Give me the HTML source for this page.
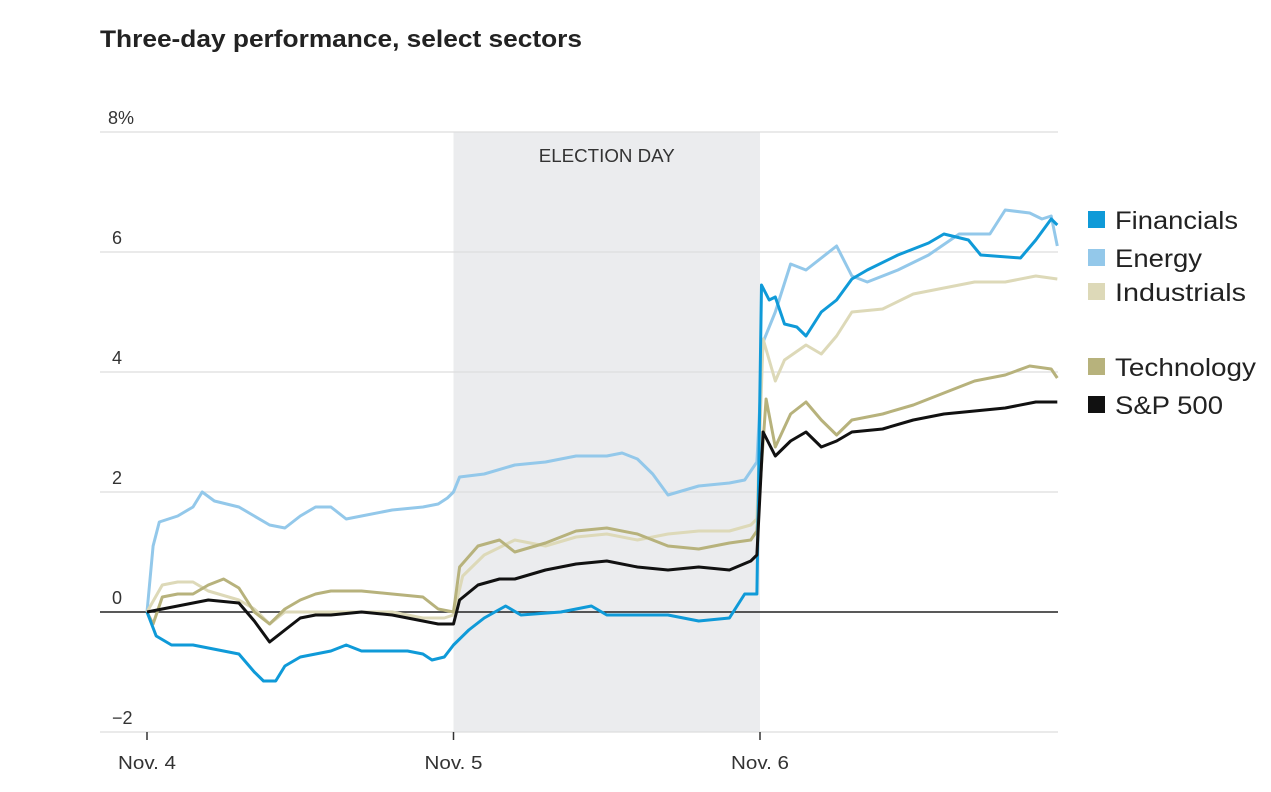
<!DOCTYPE html>
<html><head><meta charset="utf-8"><style>
body{margin:0;background:#fff;}
svg{display:block;font-family:"Liberation Sans",sans-serif;}
</style></head><body>
<svg width="1271" height="792">
<text x="100" y="47" font-size="24" font-weight="bold" fill="#222" textLength="482" lengthAdjust="spacingAndGlyphs">Three-day performance, select sectors</text>
<g id="grid"></g>
<g id="lines"></g>
<g id="legend"></g>
</svg>
<script>
const yTicks=[8,6,4,2,0,-2];
const yTickLabels=["8%","6","4","2","0","−2"];
const xTicks=[0,1,2];
const xTickLabels=["Nov. 4","Nov. 5","Nov. 6"];
const seriesNames=["Energy","Industrials","Technology","Financials","S&P 500"];
const legendOrder=["Financials","Energy","Industrials","Technology","S&P 500"];
const colors={"Financials":"#0f9ad8","Energy":"#93c8ea","Industrials":"#ddd9b8","Technology":"#b7b27c","S&P 500":"#111"};
const tEnergy=[0,0.02,0.04,0.1,0.15,0.18,0.22,0.3,0.4,0.45,0.5,0.55,0.6,0.65,0.7,0.8,0.9,0.95,0.98,1.0,1.02,1.1,1.2,1.3,1.4,1.5,1.55,1.6,1.65,1.7,1.8,1.9,1.95,1.99,2.01,2.05,2.1,2.15,2.25,2.3,2.35,2.45,2.55,2.65,2.75,2.8,2.88,2.92,2.95,2.97];
const vEnergy=[0,1.1,1.5,1.6,1.75,2.0,1.85,1.75,1.45,1.4,1.6,1.75,1.75,1.55,1.6,1.7,1.75,1.8,1.9,2.0,2.25,2.3,2.45,2.5,2.6,2.6,2.65,2.55,2.3,1.95,2.1,2.15,2.2,2.5,4.5,5.0,5.8,5.7,6.1,5.6,5.5,5.7,5.95,6.3,6.3,6.7,6.65,6.55,6.6,6.1];
const tFin=[0,0.03,0.08,0.15,0.2,0.3,0.35,0.38,0.42,0.45,0.5,0.55,0.6,0.65,0.7,0.8,0.85,0.9,0.93,0.97,1.0,1.05,1.1,1.17,1.22,1.35,1.4,1.45,1.5,1.6,1.7,1.8,1.9,1.95,1.99,2.005,2.03,2.05,2.08,2.12,2.15,2.2,2.25,2.3,2.35,2.45,2.55,2.6,2.68,2.72,2.85,2.9,2.95,2.97];
const vFin=[0,-0.4,-0.55,-0.55,-0.6,-0.7,-1.0,-1.15,-1.15,-0.9,-0.75,-0.7,-0.65,-0.55,-0.65,-0.65,-0.65,-0.7,-0.8,-0.75,-0.55,-0.3,-0.1,0.1,-0.05,0,0.05,0.1,-0.05,-0.05,-0.05,-0.15,-0.1,0.3,0.3,5.45,5.2,5.25,4.8,4.75,4.6,5.0,5.2,5.55,5.7,5.95,6.15,6.3,6.2,5.95,5.9,6.2,6.55,6.45];
const tInd=[0,0.05,0.1,0.15,0.2,0.3,0.35,0.4,0.45,0.5,0.6,0.7,0.8,0.9,0.97,1.0,1.03,1.1,1.2,1.3,1.4,1.5,1.6,1.7,1.8,1.9,1.97,1.99,2.01,2.05,2.08,2.15,2.2,2.25,2.3,2.4,2.5,2.6,2.7,2.8,2.9,2.97];
const vInd=[0,0.45,0.5,0.5,0.35,0.2,0.05,-0.2,0,0,0,0,0,-0.1,-0.1,-0.05,0.6,0.95,1.2,1.1,1.25,1.3,1.2,1.3,1.35,1.35,1.45,1.55,4.55,3.85,4.2,4.45,4.3,4.6,5.0,5.05,5.3,5.4,5.5,5.5,5.6,5.55];
const tTech=[0,0.02,0.05,0.1,0.15,0.2,0.25,0.3,0.35,0.4,0.45,0.5,0.55,0.6,0.7,0.8,0.9,0.95,1.0,1.02,1.08,1.15,1.2,1.3,1.4,1.5,1.6,1.7,1.8,1.9,1.97,1.99,2.02,2.05,2.1,2.15,2.2,2.25,2.3,2.4,2.5,2.6,2.7,2.8,2.88,2.95,2.97];
const vTech=[0,-0.2,0.25,0.3,0.3,0.45,0.55,0.4,0,-0.2,0.05,0.2,0.3,0.35,0.35,0.3,0.25,0.05,0,0.75,1.1,1.2,1.0,1.15,1.35,1.4,1.3,1.1,1.05,1.15,1.2,1.35,3.55,2.75,3.3,3.5,3.2,2.95,3.2,3.3,3.45,3.65,3.85,3.95,4.1,4.05,3.9];
const tSP=[0,0.05,0.1,0.15,0.2,0.3,0.35,0.4,0.45,0.5,0.55,0.6,0.7,0.8,0.9,0.95,1.0,1.02,1.08,1.15,1.2,1.3,1.4,1.5,1.6,1.7,1.8,1.9,1.97,1.99,2.01,2.05,2.1,2.15,2.2,2.25,2.3,2.4,2.5,2.6,2.7,2.8,2.9,2.97];
const vSP=[0,0.05,0.1,0.15,0.2,0.15,-0.15,-0.5,-0.3,-0.1,-0.05,-0.05,0,-0.05,-0.15,-0.2,-0.2,0.2,0.45,0.55,0.55,0.7,0.8,0.85,0.75,0.7,0.75,0.7,0.85,0.95,3.0,2.6,2.85,3.0,2.75,2.85,3.0,3.05,3.2,3.3,3.35,3.4,3.5,3.5];
const shadeStart=1, shadeEnd=2;

const NS="http://www.w3.org/2000/svg";
const X=t=>147+t*306.5;
const Y=v=>612-v*60;
function mk(tag,attrs,parent,txt){const e=document.createElementNS(NS,tag);for(const k in attrs)e.setAttribute(k,attrs[k]);if(txt!==undefined)e.textContent=txt;parent.appendChild(e);return e;}
const grid=document.getElementById('grid');
const sh=mk('rect',{x:X(shadeStart),y:Y(8),width:X(shadeEnd)-X(shadeStart),height:Y(-2)-Y(8),fill:'#ebecee'},grid);


const st=mk('text',{x:(X(shadeStart)+X(shadeEnd))/2,y:162,'text-anchor':'middle','font-size':18,fill:'#333',textLength:136,lengthAdjust:'spacingAndGlyphs'},grid,'ELECTION DAY');


yTicks.forEach((v,i)=>{
  const l=mk('line',{x1:100,x2:1058,y1:Y(v),y2:Y(v),stroke:v===0?'#222':'#ddd','stroke-width':v===0?1.5:1.2},grid);
  
  
  const t=mk('text',{x:v===8?108:112,y:Y(v)-8,'font-size':18,fill:'#333'},grid,yTickLabels[i]);
  
  
});
xTicks.forEach((d,i)=>{
  const l=mk('line',{x1:X(d),x2:X(d),y1:Y(-2),y2:Y(-2)+8,stroke:'#333','stroke-width':1.5},grid);
  
  
  const t=mk('text',{x:X(d),y:Y(-2)+37,'font-size':18,fill:'#333','text-anchor':'middle',textLength:58,lengthAdjust:'spacingAndGlyphs'},grid,xTickLabels[i]);
  
  
});
const data={"Energy":[tEnergy,vEnergy],"Industrials":[tInd,vInd],"Technology":[tTech,vTech],"Financials":[tFin,vFin],"S&P 500":[tSP,vSP]};
const lines=document.getElementById('lines');
seriesNames.forEach(n=>{
  const [ts,vs]=data[n];
  const p=mk('polyline',{points:ts.map((t,i)=>X(t).toFixed(1)+','+Y(vs[i]).toFixed(1)).join(' '),fill:'none',stroke:colors[n],'stroke-width':3,'stroke-linejoin':'round'},lines);
  
  
});
const legY={"Financials":220,"Energy":258,"Industrials":292,"Technology":367,"S&P 500":405};
const legW={"Financials":123,"Energy":87,"Industrials":131,"Technology":141,"S&P 500":108};
const leg=document.getElementById('legend');
legendOrder.forEach(n=>{
  const r=mk('rect',{x:1088,y:legY[n]-9,width:17,height:17,fill:colors[n]},leg);
  
  
  const t=mk('text',{x:1115,y:legY[n]+9,'font-size':25,fill:'#222',textLength:legW[n],lengthAdjust:'spacingAndGlyphs'},leg,n);
  
  
});
</script>
</body></html>
